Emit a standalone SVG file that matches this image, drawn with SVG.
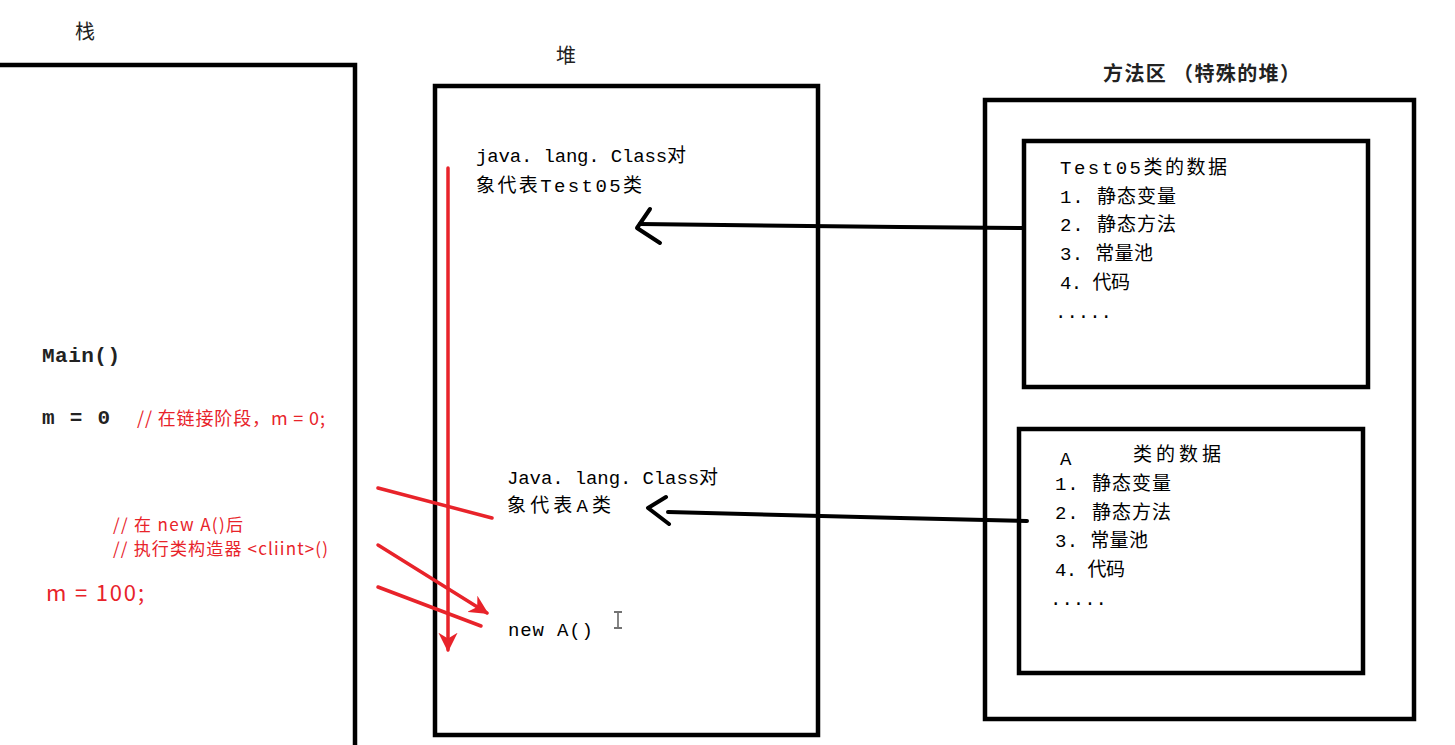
<svg xmlns="http://www.w3.org/2000/svg" width="1455" height="745" viewBox="0 0 1455 745">
<defs>
<style>
.box{fill:none;stroke:#000;stroke-width:4.5}
.lbl{font-family:"Noto Sans CJK SC","Noto Sans",sans-serif;font-size:20px;fill:#222}
.code{font-family:"Liberation Mono","Noto Sans CJK SC",monospace;font-size:19px;fill:#000}
.big{font-family:"Liberation Mono","Noto Sans CJK SC",monospace;font-size:21px;font-weight:bold;fill:#222}
.red{font-family:"Noto Sans CJK SC","Noto Sans",sans-serif;fill:#e8232a}
.rl{stroke:#e8232a;stroke-width:3.5;fill:none;stroke-linecap:round}
.bl{stroke:#000;stroke-width:4;fill:none;stroke-linecap:round;stroke-linejoin:round}
</style>
<marker id="ra" viewBox="0 0 10 10" refX="9" refY="5" markerWidth="5.5" markerHeight="5.5" orient="auto" markerUnits="strokeWidth">
<path d="M0,0 L10,5 L0,10 L3,5 Z" fill="#e8232a"/>
</marker>
</defs>
<rect width="1455" height="745" fill="#fff"/>

<g id="stack">
<rect class="box" x="-10" y="65" width="365" height="700"/>
<text class="lbl" x="75" y="39">栈</text>
<text class="big" x="42" y="362" textLength="78">Main()</text>
<text class="big" x="42" y="424" textLength="68">m = 0</text>
<text class="red" x="137" y="425" font-size="18" textLength="188">// 在链接阶段，m = 0;</text>
<text class="red" x="113" y="531" font-size="17" textLength="130">// 在 new A()后</text>
<text class="red" x="113" y="555" font-size="17" textLength="215">// 执行类构造器 &lt;cliint&gt;()</text>
<text class="red" x="46" y="601" font-size="22" textLength="98">m = 100;</text>
</g>

<g id="heap">
<rect class="box" x="435" y="86" width="383" height="649"/>
<text class="lbl" x="556" y="63">堆</text>
<text class="code" x="476" y="162" textLength="210">java. lang. Class对</text>
<text class="code" x="476" y="192" textLength="166">象代表Test05类</text>
<text class="code" x="507" y="484" textLength="211">Java. lang. Class对</text>
<text class="code" x="507" y="512" textLength="104">象代表A类</text>
<text class="code" x="508" y="636" textLength="85">new A()</text>
</g>

<g id="method-area">
<rect class="box" x="985" y="100" width="429" height="619"/>
<text class="lbl" x="1103" y="81" font-weight="bold" textLength="197">方法区 （特殊的堆）</text>
</g>

<g id="test05-data">
<rect class="box" x="1024" y="141" width="344" height="246"/>
<text class="code" x="1060" y="174" textLength="167">Test05类的数据</text>
<text class="code" x="1060" y="203" textLength="116">1. 静态变量</text>
<text class="code" x="1060" y="231" textLength="116">2. 静态方法</text>
<text class="code" x="1060" y="260" textLength="93">3. 常量池</text>
<text class="code" x="1060" y="289" textLength="70">4. 代码</text>
<text class="code" x="1055" y="318">.....</text>
</g>

<g id="a-data">
<rect class="box" x="1019" y="429" width="344" height="244"/>
<text class="code" x="1060" y="465">A</text>
<text class="code" x="1133" y="461" textLength="88">类的数据</text>
<text class="code" x="1055" y="490" textLength="116">1. 静态变量</text>
<text class="code" x="1055" y="519" textLength="116">2. 静态方法</text>
<text class="code" x="1055" y="547" textLength="93">3. 常量池</text>
<text class="code" x="1055" y="576" textLength="70">4. 代码</text>
<text class="code" x="1050" y="605">.....</text>
</g>

<g id="cursor">
<path d="M618,613 V627 M614,612 H622 M614,628 H622" stroke="#444" stroke-width="1.3" fill="none"/>
</g>

<g id="connectors">
<path class="bl" d="M1024,228 L900,227 L640,224"/>
<polyline class="bl" points="650,209 637,228 660,243"/>
<path class="bl" d="M1027,521 L900,518 L668,512"/>
<polyline class="bl" points="666,497 648,508 669,524"/>
<line class="rl" x1="448" y1="168" x2="448" y2="650" marker-end="url(#ra)"/>
<line class="rl" x1="378" y1="488" x2="492" y2="518"/>
<line class="rl" x1="378" y1="545" x2="487" y2="613" marker-end="url(#ra)"/>
<line class="rl" x1="378" y1="587" x2="481" y2="626"/>
</g>
</svg>
